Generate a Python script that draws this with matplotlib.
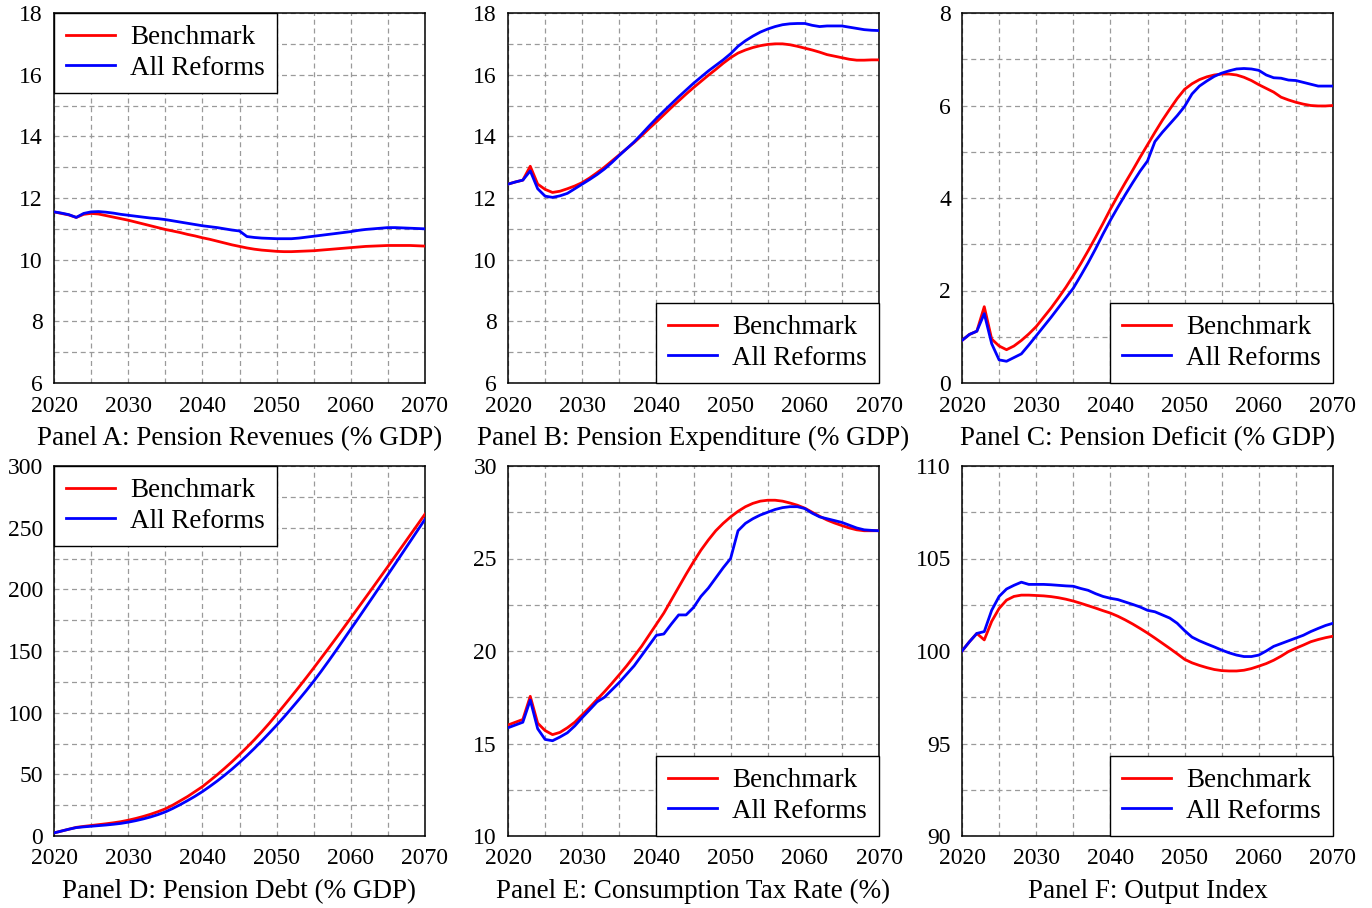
import matplotlib
matplotlib.use("Agg")
import matplotlib.pyplot as plt
import numpy as np

plt.rcParams['font.family'] = ['Liberation Serif', 'DejaVu Serif']
plt.rcParams['mathtext.fontset'] = 'stix'

years = list(range(2020, 2071))

rev_bench = [11.55, 11.50, 11.45, 11.37, 11.47, 11.50, 11.48, 11.43, 11.38, 11.33, 11.28,
             11.22, 11.16, 11.10, 11.04, 10.98, 10.93, 10.88, 10.82, 10.77, 10.71,
             10.66, 10.60, 10.54, 10.48, 10.43, 10.38, 10.34, 10.31, 10.29, 10.27,
             10.26, 10.26, 10.27, 10.28, 10.29, 10.31, 10.33, 10.35, 10.37, 10.39,
             10.41, 10.43, 10.44, 10.45, 10.46, 10.46, 10.46, 10.46, 10.45, 10.44]
rev_reform = [11.55, 11.51, 11.46, 11.37, 11.50, 11.55, 11.56, 11.54, 11.51, 11.47, 11.44,
              11.41, 11.38, 11.35, 11.33, 11.30, 11.26, 11.22, 11.18, 11.14, 11.10,
              11.07, 11.04, 11.00, 10.96, 10.93, 10.75, 10.72, 10.70, 10.69, 10.68,
              10.68, 10.68, 10.70, 10.73, 10.76, 10.79, 10.82, 10.85, 10.88, 10.91,
              10.95, 10.98, 11.00, 11.02, 11.04, 11.04, 11.03, 11.02, 11.01, 11.00]

exp_bench = [12.45, 12.52, 12.58, 13.03, 12.45, 12.28, 12.18, 12.22, 12.30, 12.39, 12.50,
             12.65, 12.82, 13.00, 13.20, 13.40, 13.60, 13.80, 14.02, 14.25, 14.47,
             14.70, 14.93, 15.15, 15.37, 15.58, 15.78, 15.98, 16.17, 16.37, 16.55,
             16.70, 16.80, 16.88, 16.94, 16.98, 17.00, 17.00, 16.97, 16.92, 16.86,
             16.80, 16.73, 16.65, 16.60, 16.55, 16.50, 16.47, 16.47, 16.48, 16.48]
exp_reform = [12.45, 12.52, 12.58, 12.88, 12.30, 12.06, 12.02, 12.07, 12.15, 12.30, 12.45,
              12.60, 12.76, 12.94, 13.15, 13.38, 13.60, 13.82, 14.07, 14.33, 14.58,
              14.82, 15.05, 15.28, 15.50, 15.72, 15.92, 16.12, 16.30, 16.48, 16.68,
              16.92, 17.10, 17.25, 17.38, 17.48, 17.56, 17.62, 17.65, 17.66, 17.66,
              17.60, 17.56, 17.58, 17.58, 17.58, 17.54, 17.50, 17.46, 17.44, 17.43]

def_bench = [0.92, 1.05, 1.12, 1.65, 0.95, 0.80, 0.72, 0.80, 0.92, 1.06, 1.22,
             1.42, 1.62, 1.84, 2.07, 2.32, 2.58, 2.86, 3.15, 3.45, 3.76,
             4.05, 4.33, 4.60, 4.88, 5.15, 5.42, 5.68, 5.92, 6.15, 6.35,
             6.47, 6.56, 6.62, 6.66, 6.68, 6.68, 6.66, 6.61, 6.54, 6.45,
             6.37, 6.29, 6.18, 6.12, 6.07, 6.03, 6.00, 5.99, 5.99, 6.00]
def_reform = [0.92, 1.05, 1.12, 1.50, 0.85, 0.50, 0.47, 0.55, 0.63, 0.82, 1.02,
              1.22, 1.42, 1.63, 1.84, 2.05, 2.32, 2.60, 2.90, 3.22, 3.52,
              3.80, 4.07, 4.33, 4.58, 4.80, 5.22, 5.42, 5.60, 5.78, 5.98,
              6.25, 6.42, 6.53, 6.63, 6.70, 6.75, 6.79, 6.80, 6.79, 6.76,
              6.66, 6.60, 6.59, 6.55, 6.54, 6.50, 6.46, 6.42, 6.42, 6.42]

debt_bench = [2.5, 4.0, 5.5, 7.0, 7.8, 8.5, 9.2, 9.9, 10.7, 11.6, 12.8,
              14.2, 15.8, 17.6, 19.7, 22.0, 25.0, 28.5, 32.0, 36.0, 40.0,
              44.8, 49.7, 54.9, 60.3, 66.0, 71.9, 78.0, 84.5, 91.3, 98.5,
              105.8, 113.2, 120.7, 128.4, 136.2, 144.2, 152.2, 160.3, 168.5, 176.8,
              185.1, 193.4, 201.7, 210.1, 218.5, 227.0, 235.5, 244.0, 252.5, 261.0]
debt_reform = [2.5, 4.0, 5.5, 6.8, 7.4, 7.9, 8.4, 8.9, 9.5, 10.2, 11.2,
               12.4, 13.8, 15.4, 17.3, 19.5, 22.3, 25.4, 28.7, 32.2, 36.0,
               40.2, 44.6, 49.3, 54.3, 59.6, 65.2, 71.0, 77.1, 83.4, 89.8,
               96.5, 103.5, 110.6, 117.9, 125.5, 133.5, 141.8, 150.3, 159.0, 167.8,
               176.5, 185.3, 194.1, 203.0, 211.9, 220.8, 229.8, 238.8, 247.8, 256.8]

tax_bench = [16.00, 16.15, 16.30, 17.55, 16.10, 15.70, 15.48, 15.60, 15.85, 16.15, 16.55,
             16.95, 17.38, 17.80, 18.25, 18.72, 19.20, 19.72, 20.25, 20.85, 21.45,
             22.05, 22.75, 23.45, 24.15, 24.82, 25.45, 26.00, 26.50, 26.90, 27.25,
             27.55, 27.80, 27.98, 28.10, 28.15, 28.15, 28.10, 28.00, 27.88, 27.72,
             27.50, 27.28, 27.08, 26.92, 26.78, 26.65, 26.55, 26.50, 26.50, 26.50]
tax_reform = [15.85, 16.00, 16.15, 17.35, 15.80, 15.22, 15.15, 15.35, 15.58, 15.95, 16.40,
              16.82, 17.25, 17.50, 17.90, 18.30, 18.75, 19.20, 19.75, 20.30, 20.85,
              20.92, 21.45, 21.95, 21.95, 22.35, 22.95, 23.40, 23.95, 24.50, 25.00,
              26.50, 26.90, 27.15, 27.35, 27.50, 27.65, 27.75, 27.80, 27.80, 27.70,
              27.45, 27.25, 27.15, 27.05, 26.95, 26.80, 26.65, 26.55, 26.52, 26.50]

out_bench = [100.00, 100.50, 100.95, 100.60, 101.60, 102.30, 102.75, 102.95, 103.02, 103.02, 103.00,
             102.98, 102.94, 102.88, 102.80, 102.70, 102.58, 102.45, 102.32, 102.18, 102.05,
             101.88, 101.68, 101.46, 101.22, 100.97, 100.70, 100.42, 100.14, 99.85, 99.55,
             99.36, 99.22, 99.10, 99.00, 98.94, 98.92, 98.92, 98.96, 99.05, 99.18,
             99.32, 99.50, 99.72, 99.97, 100.15, 100.32, 100.50, 100.62, 100.72, 100.80]
out_reform = [100.00, 100.50, 100.95, 101.05, 102.20, 102.95, 103.35, 103.55, 103.72, 103.60, 103.60,
              103.60, 103.58, 103.55, 103.52, 103.50, 103.38, 103.28, 103.10, 102.95, 102.85,
              102.78, 102.65, 102.52, 102.38, 102.20, 102.12, 101.95, 101.78, 101.50, 101.10,
              100.75, 100.55, 100.38, 100.22, 100.05, 99.90, 99.78, 99.70, 99.70, 99.78,
              100.00, 100.25, 100.40, 100.55, 100.70, 100.85, 101.05, 101.22, 101.38, 101.50]

titles = ["Panel A: Pension Revenues (% GDP)", "Panel B: Pension Expenditure (% GDP)",
          "Panel C: Pension Deficit (% GDP)", "Panel D: Pension Debt (% GDP)",
          "Panel E: Consumption Tax Rate (%)", "Panel F: Output Index"]
series = [(rev_bench, rev_reform), (exp_bench, exp_reform), (def_bench, def_reform),
          (debt_bench, debt_reform), (tax_bench, tax_reform), (out_bench, out_reform)]
ylims = [(6, 18), (6, 18), (0, 8), (0, 300), (10, 30), (90, 110)]
ystep = [2, 2, 2, 50, 5, 5]
legend_loc = ["upper left", "lower right", "lower right", "upper left", "lower right", "lower right"]
series_labels = ["Benchmark", "All Reforms"]

fig = plt.figure(figsize=(13.72, 9.08), dpi=100)
W, H = 1372.0, 908.0
lefts = [54, 508, 962]
tops = [13, 466]
aw, ah = 371, 370

for i in range(6):
    r, c = divmod(i, 3)
    x0 = lefts[c]
    y0 = tops[r]
    ax = fig.add_axes([x0 / W, 1 - (y0 + ah) / H, aw / W, ah / H])
    b, rf = series[i]
    ax.plot(years, b, color='#ff0000', lw=2.0, label=series_labels[0], zorder=3)
    ax.plot(years, rf, color='#0000ff', lw=2.0, label=series_labels[1], zorder=3)
    ax.set_xlim(2020, 2070)
    lo, hi = ylims[i]
    ax.set_ylim(lo, hi)
    ax.set_xticks(range(2020, 2071, 10))
    ax.set_xticks(range(2025, 2071, 10), minor=True)
    st = ystep[i]
    ax.set_yticks(np.arange(lo, hi + st / 2, st))
    ax.set_yticks(np.arange(lo + st / 2, hi, st), minor=True)
    ax.grid(True, which='both', linestyle=(0, (4, 3)), color='#9a9a9a', lw=0.9, zorder=1)
    ax.tick_params(which='both', length=0, labelsize=17, pad=8)
    ax.tick_params(axis='x', pad=9)
    for sp in ax.spines.values():
        sp.set_linewidth(1.1)
        sp.set_color('black')
    ax.set_xlabel(titles[i], fontsize=19.5, labelpad=7)
    leg = ax.legend(loc=legend_loc[i], fontsize=19.5, frameon=True, fancybox=False,
                    borderaxespad=0, handlelength=1.8, handletextpad=0.55,
                    borderpad=0.45, labelspacing=0.2, framealpha=1)
    leg.get_frame().set_edgecolor('black')
    leg.get_frame().set_linewidth(1.0)
    leg.set_zorder(5)

fig.savefig("out.png", dpi=100)
